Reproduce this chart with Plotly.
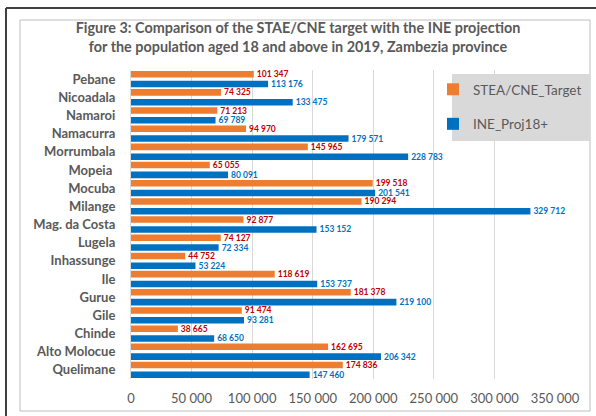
import plotly.graph_objects as go

# Data (top to bottom as shown in the chart)
districts = ["Pebane", "Nicoadala", "Namaroi", "Namacurra", "Morrumbala", "Mopeia ",
             "Mocuba", "Milange", "Mag. da Costa", "Lugela", "Inhassunge", "Ile",
             "Gurue", "Gile", "Chinde", "Alto Molocue", "Quelimane"]
stae_cne_target = [101347, 74325, 71213, 94970, 145965, 65055, 199518, 190294, 92877,
                   74127, 44752, 118619, 181378, 91474, 38665, 162695, 174836]
ine_proj18 = [113176, 133475, 69789, 179571, 228783, 80091, 201541, 329712, 153152,
              72334, 53224, 153737, 219100, 93281, 68650, 206342, 147460]
x_ticks = [0, 50000, 100000, 150000, 200000, 250000, 300000, 350000]
x_tick_labels = ["0", "50 000", "100 000", "150 000", "200 000", "250 000", "300 000", "350 000"]

W, H = 596, 416
L, R, T, B = 131, 555, 70, 379  # plot area in pixels


def px(x):
    return (x - L) / (R - L)


def py(y):
    return (B - y) / (B - T)


FONT = "Lato, sans-serif"
ORANGE = "#ED7D31"
BLUE = "#0070C0"
GREY = "#595959"

fig = go.Figure()
fig.add_trace(go.Bar(
    y=districts, x=stae_cne_target, orientation="h", name="STEA/CNE_Target",
    marker=dict(color=ORANGE, line=dict(width=0)), width=0.36, offset=0.09,
    text=stae_cne_target, texttemplate="%{x:,}", textposition="outside",
    textfont=dict(family=FONT, size=8.5, color="#C00000", weight="bold"),
    cliponaxis=False, constraintext="none", legendgroup="a",
))
fig.add_trace(go.Bar(
    y=districts, x=ine_proj18, orientation="h", name="INE_Proj18+",
    marker=dict(color=BLUE, line=dict(width=0)), width=0.36, offset=-0.45,
    text=ine_proj18, texttemplate="%{x:,}", textposition="outside",
    textfont=dict(family=FONT, size=8.5, color=BLUE, weight="bold"),
    cliponaxis=False, constraintext="none", legendgroup="b",
))

shapes = [
    # inner light border
    dict(type="rect", xref="paper", yref="paper", x0=px(20), x1=px(590), y0=py(411), y1=py(20),
         line=dict(color="#BFBFBF", width=1), fillcolor="rgba(0,0,0,0)", layer="below"),
    # outer dark frame (top and left)
    dict(type="line", xref="paper", yref="paper", x0=px(6), x1=px(600), y0=py(8), y1=py(8),
         line=dict(color="#404040", width=2)),
    dict(type="line", xref="paper", yref="paper", x0=px(6), x1=px(6), y0=py(8), y1=py(420),
         line=dict(color="#404040", width=2)),
    # legend background
    dict(type="rect", xref="paper", yref="paper", x0=px(452), x1=px(590), y0=py(141), y1=py(74),
         line=dict(width=0), fillcolor="#D9D9D9", layer="above"),
]

fig.update_layout(
    width=W, height=H,
    margin=dict(l=L, r=W - R, t=T, b=H - B, autoexpand=False),
    paper_bgcolor="white", plot_bgcolor="white",
    separators=". ",
    barmode="group",
    font=dict(family=FONT, color=GREY),
    title=dict(
        text="Figure 3: Comparison of the STAE/CNE target with the INE projection<br>"
             "for the population aged 18 and above in 2019, Zambezia province",
        x=0.5, xanchor="center", xref="container",
        y=1 - 33 / H, yanchor="middle", yref="container",
        font=dict(family=FONT, size=14.4, color=GREY, weight="bold"),
    ),
    xaxis=dict(
        range=[0, 350000], tickmode="array", tickvals=x_ticks, ticktext=x_tick_labels,
        tickangle=0, automargin=False,
        showgrid=True, gridcolor="#D9D9D9", gridwidth=1, zeroline=False,
        showline=False, ticks="", ticklabelstandoff=10,
        tickfont=dict(family=FONT, size=13, color=GREY),
    ),
    yaxis=dict(
        categoryorder="array", categoryarray=districts[::-1],
        tickmode="array", tickvals=districts, ticktext=districts,
        range=[-0.5, len(districts) - 0.5], automargin=False,
        showgrid=False, zeroline=False, showline=True, linecolor="#D9D9D9", linewidth=1,
        ticks="", ticklabelstandoff=12,
        tickfont=dict(family=FONT, size=13, color=GREY, weight="bold"),
    ),
    legend=dict(
        x=px(433), y=py(74), xanchor="left", yanchor="top",
        bgcolor="rgba(0,0,0,0)", borderwidth=0,
        font=dict(family=FONT, size=13.5, color=GREY),
        traceorder="grouped", tracegroupgap=14, itemwidth=30,
    ),
    shapes=shapes,
)

fig.write_html(
    "out.html",
    config={"displayModeBar": False},
    post_script="document.body.style.margin='0px';document.body.style.overflow='hidden';",
)
